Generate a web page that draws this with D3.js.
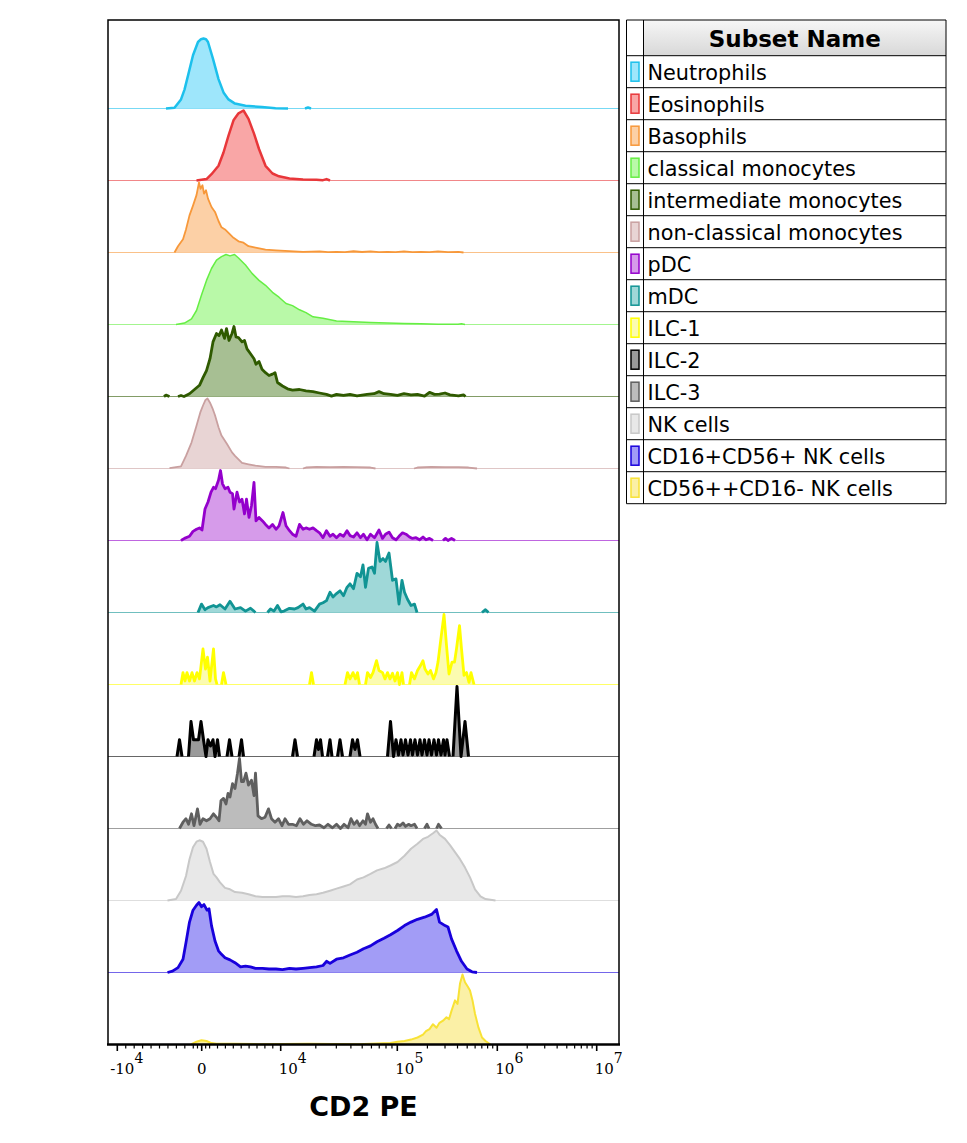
<!DOCTYPE html>
<html>
<head>
<meta charset="utf-8">
<script src="https://cdn.jsdelivr.net/npm/d3@7"></script>
<style>
  body { margin: 0; background: #fff; }
  text { font-family: "DejaVu Sans", Verdana, sans-serif; fill: #000; }
  .tick-label { font-family: "DejaVu Serif", serif; font-size: 15px; }
</style>
</head>
<body>
<script>

// Subsets, top to bottom
var subsets = ["Neutrophils", "Eosinophils", "Basophils", "classical monocytes",
  "intermediate monocytes", "non-classical monocytes", "pDC", "mDC", "ILC-1",
  "ILC-2", "ILC-3", "NK cells", "CD16+CD56+ NK cells", "CD56++CD16- NK cells"];

// Histograms: [display channel (0-1022), % of max count]
var neutrophils = [[116,0],[133,1],[146,13],[153,27],[160,47],[170,76],[180,95],[186,99],[191,100],[196,99],[200,95],[210,71],[221,42],[231,23],[241,13],[254,7],[275,4],[308,2],[335,0.5],[360,0],[394,0],[400,1.5],[406,0]];
var eosinophils = [[177,0],[197,2],[207,9],[221,21],[231,40],[241,64],[251,86],[261,96],[271,100],[281,88],[292,67],[302,45],[315,21],[329,10],[342,6],[363,3],[390,1.5],[417,1],[430,0.5],[437,2],[444,0]];
var basophils = [[133,0],[140,9],[150,19],[156,33],[163,53],[170,67],[177,82],[182,100],[185,91],[189,96],[192,84],[196,89],[200,77],[207,65],[214,58],[221,45],[227,36],[234,33],[241,28],[251,21],[261,16],[271,14],[281,9],[295,7],[315,4],[336,3],[363,2],[390,1],[423,1.5],[440,0.5],[457,1],[474,0.5],[491,1.8],[508,0.7],[525,1.5],[542,0.5],[559,1],[575,0.5],[592,1.5],[609,0.5],[626,1],[643,0.5],[660,1.5],[680,0.5],[701,1],[711,0]];
var classicalMono = [[136,0],[153,2],[167,8],[177,20],[187,42],[197,63],[207,80],[217,92],[227,97],[236,100],[244,98],[253,100],[261,95],[275,85],[288,73],[302,63],[315,56],[329,46],[342,39],[356,30],[369,27],[383,21],[396,17],[410,11],[430,9],[457,5],[491,4],[525,3],[559,2],[592,1.4],[626,1],[660,0.5],[700,0.5],[707,1],[714,0]];
var intermediateMono = [[112,0],[116,2],[123,0],[140,0],[146,1.5],[152,0],[163,4],[173,10],[183,16],[190,27],[197,37],[204,54],[210,78],[217,90],[222,87],[227,95],[233,83],[237,97],[242,80],[248,90],[252,100],[256,85],[261,84],[268,78],[273,80],[278,68],[285,61],[292,54],[296,46],[302,50],[308,39],[315,34],[322,30],[329,32],[334,34],[339,20],[349,15],[359,11],[369,9],[383,10],[396,8],[410,7],[423,5],[437,3],[447,0.5],[457,3],[471,1.5],[484,3],[498,1],[518,3],[532,4],[542,7],[552,4],[565,3],[579,1.5],[592,4],[606,2.4],[619,3],[633,0.5],[643,6],[653,3],[663,3.4],[674,5],[684,2.4],[701,1],[711,2.4],[715,0]];
var nonClassicalMono = [[123,0.5],[146,3],[156,18],[167,37],[177,61],[185,81],[190,90],[195,98],[199,100],[204,94],[209,86],[214,76],[221,59],[227,47],[238,35],[248,23],[254,18],[268,8],[281,6],[295,4],[315,2.4],[336,2.4],[356,1.4],[363,0],[390,0],[396,1.4],[417,2.4],[444,2],[471,2.4],[498,2],[525,1.4],[535,0],[612,0],[619,1.4],[647,2.4],[674,2],[701,2],[721,1.4],[738,0]];
var pDC = [[146,0],[153,3],[163,6],[170,13],[177,16],[183,18],[188,15],[194,45],[200,55],[206,69],[211,76],[215,74],[221,86],[225,100],[229,81],[234,74],[240,76],[244,69],[249,67],[252,45],[258,69],[263,55],[268,59],[273,38],[277,59],[282,33],[287,50],[292,83],[296,28],[302,33],[309,28],[315,23],[322,18],[329,23],[336,16],[342,21],[350,40],[356,21],[363,14],[369,9],[376,6],[383,23],[390,16],[396,18],[403,16],[410,18],[417,14],[423,11],[430,4],[437,14],[444,6],[450,9],[457,4],[464,9],[471,6],[478,14],[484,7],[491,5],[498,11],[505,4],[511,9],[518,1],[525,9],[533,4],[542,15],[549,3],[555,9],[562,12],[569,4],[576,1],[582,6],[589,11],[596,9],[603,5],[609,3],[616,4],[623,1],[630,5],[636,1],[643,3],[650,0],[670,0],[675,3],[680,0],[687,3],[694,0]];
var mDC = [[180,0],[187,12],[194,4],[200,7],[211,10],[217,8],[224,11],[234,5],[244,16],[254,5],[265,7],[275,2],[285,6],[295,0],[319,0],[325,5],[332,2],[339,10],[346,1],[352,2],[363,6],[373,5],[380,7],[390,12],[396,5],[403,7],[413,2],[423,12],[430,14],[437,17],[444,29],[450,22],[457,27],[464,31],[471,24],[478,36],[484,41],[491,34],[498,56],[505,51],[510,68],[515,36],[521,63],[528,65],[533,56],[538,100],[544,73],[550,77],[555,73],[562,85],[569,46],[576,48],[582,12],[588,46],[593,29],[599,19],[606,10],[613,12],[618,0],[748,0],[755,4],[761,0]];
var ilc1 = [[146,0],[150,17],[154,5],[158,17],[163,5],[168,17],[173,5],[178,17],[183,8],[190,51],[195,22],[199,39],[204,5],[211,51],[215,8],[218,0],[227,0],[231,17],[236,0],[403,0],[407,17],[411,0],[474,0],[479,17],[484,8],[490,17],[495,8],[499,17],[503,0],[515,0],[519,17],[525,10],[530,17],[537,34],[542,20],[549,17],[554,8],[559,17],[564,8],[569,16],[574,5],[579,17],[583,0],[588,17],[591,0],[603,0],[607,17],[613,8],[619,20],[625,27],[630,34],[634,22],[640,15],[645,20],[651,8],[656,17],[660,32],[665,61],[672,100],[677,56],[682,15],[688,32],[693,32],[697,51],[703,84],[707,51],[712,13],[717,17],[722,3],[726,17],[732,0]];
var ilc2 = [[138,0],[143,24],[148,0],[161,0],[166,50],[171,24],[181,24],[186,50],[191,24],[196,0],[200,24],[205,15],[210,24],[214,0],[219,24],[223,0],[238,0],[243,24],[248,0],[262,0],[267,24],[271,0],[369,0],[374,24],[379,0],[412,0],[417,24],[421,10],[425,24],[429,0],[439,0],[444,24],[448,0],[459,0],[464,24],[469,0],[484,0],[489,24],[494,10],[499,24],[504,0],[559,0],[565,50],[571,0],[576,24],[581,2],[586,24],[590,2],[595,24],[600,2],[605,24],[609,2],[614,24],[619,2],[624,24],[628,2],[633,24],[638,2],[642,24],[647,2],[652,24],[657,2],[661,24],[666,2],[671,24],[674,2],[678,24],[683,0],[690,0],[698,100],[706,0],[714,50],[721,0]];
var ilc3 = [[143,0],[150,9],[156,14],[161,6],[167,21],[172,4],[179,28],[184,6],[190,14],[197,11],[204,14],[211,21],[217,16],[222,11],[226,40],[231,43],[236,35],[240,50],[244,45],[249,64],[254,57],[259,79],[263,100],[267,67],[271,67],[276,79],[281,62],[287,69],[292,47],[295,79],[300,18],[307,14],[314,16],[321,28],[327,14],[334,9],[341,14],[348,4],[354,14],[361,6],[369,6],[377,4],[384,14],[391,6],[398,11],[407,6],[415,4],[423,5],[432,1],[440,6],[449,1],[457,6],[465,0],[472,6],[480,1],[486,14],[492,6],[498,11],[503,4],[510,11],[515,6],[519,21],[525,9],[530,14],[535,6],[540,0],[557,0],[562,5],[567,0],[574,0],[579,6],[584,4],[590,8],[595,3],[601,6],[606,4],[613,6],[618,0],[633,0],[638,6],[642,0],[657,0],[661,6],[667,0]];
var nkCells = [[119,0],[136,2],[146,14],[156,35],[163,59],[170,76],[177,84],[183,86],[190,84],[197,74],[204,55],[211,38],[217,33],[224,26],[234,18],[244,16],[254,12],[268,11],[281,9],[295,6],[309,5],[322,5],[336,5],[349,6],[363,6],[376,5],[390,6],[403,8],[417,9],[430,11],[444,14],[457,17],[471,20],[484,23],[498,30],[511,33],[525,38],[538,43],[552,46],[565,50],[579,55],[593,64],[606,74],[619,81],[630,88],[640,91],[650,96],[657,100],[663,94],[674,88],[684,79],[694,69],[704,59],[714,47],[724,33],[734,16],[745,6],[755,2],[775,0]];
var cd16cd56NK = [[119,0],[129,2],[140,7],[150,19],[156,43],[163,72],[170,89],[177,96],[182,100],[187,94],[192,97],[198,89],[202,91],[207,67],[214,45],[221,31],[227,26],[234,21],[244,18],[254,14],[265,8],[275,9],[285,8],[295,6],[309,6],[322,5],[336,5],[349,4],[363,6],[376,5],[390,6],[403,7],[417,8],[430,10],[437,16],[444,13],[457,19],[471,21],[484,25],[498,29],[511,34],[525,38],[538,44],[552,49],[565,54],[579,60],[593,67],[606,72],[619,76],[633,79],[647,83],[657,90],[663,72],[674,67],[680,65],[687,48],[697,31],[707,16],[718,5],[728,1],[738,0]];
var cd56brightNK = [[166,0],[177,4],[187,6],[197,5],[207,2],[217,1],[250,1],[300,0.5],[400,1],[500,0.5],[565,2],[579,4],[593,5],[606,7],[619,10],[630,14],[636,19],[643,22],[650,29],[657,24],[663,31],[670,34],[677,39],[682,36],[687,48],[694,63],[699,58],[704,87],[709,100],[714,89],[720,82],[724,77],[729,63],[734,44],[741,24],[748,10],[755,5],[765,0]];

var histograms = [neutrophils, eosinophils, basophils, classicalMono, intermediateMono,
  nonClassicalMono, pDC, mDC, ilc1, ilc2, ilc3, nkCells, cd16cd56NK, cd56brightNK];

// CD2 PE axis ticks (intensity)
var majorTicks = [-1e4, 0, 1e4, 1e5, 1e6, 1e7];
var tickExponents = [4, null, 4, 5, 6, 7];
var minorTicks = [-9e3,-8e3,-7e3,-6e3,-5e3,-4e3,-3e3,-2e3,-1e3,-500,500,1e3,2e3,3e3,4e3,5e3,6e3,7e3,8e3,9e3,
  2e4,3e4,4e4,5e4,6e4,7e4,8e4,9e4,2e5,3e5,4e5,5e5,6e5,7e5,8e5,9e5,2e6,3e6,4e6,5e6,6e6,7e6,8e6,9e6];

// Styles
var strokeColors = ["#1cc0ec","#e8373a","#f7983a","#66ee44","#2f5a00","#c9a0a0","#9400cc","#119494","#ffff00","#000000","#5f5f5f","#c8c8c8","#1800dc","#f8e236"];
var fillColors = ["#9ee6fb","#f9a6a6","#fcd0a6","#b9f9a8","#a7bf93","#e8d4d4","#d69bea","#9fd8d8","#fbfbb0","#9a9a9a","#bcbcbc","#e8e8e8","#a29cf6","#fbf0a6"];
var lineWidths = [2.5,2.5,1.8,1.5,2.8,1.8,2.8,2.8,2.8,3,2.8,2,2.8,2];

var W = 967, H = 1143;
var plotL = 108, plotR = 619, plotT = 20, plotB = 1044.5;

var svg = d3.select("body").append("svg")
  .attr("width", W).attr("height", H)
  .style("background", "#fff");

// biexponential-like display transform: intensity -> channel
var linPart = d3.scaleLinear().domain([-1e4, 0, 1e4]).range([18.6, 187.4, 345.4]);
var logPart = d3.scaleLinear().domain([4, 5, 6, 7]).range([345.4, 578.6, 778.6, 977.4]);
function biex(v) { return v <= 1e4 ? linPart(v) : logPart(Math.log10(v)); }

var x = d3.scaleLinear().domain([0, 1022]).range([plotL, plotR]);
var rowY = d3.scaleLinear().domain([0, subsets.length - 1]).range([108.5, plotB]);
var h = d3.scaleLinear().domain([0, 100]).range([0, 70]);

// break the outline wherever it runs along zero, so only the peaks get a thick stroke
function outlineRuns(data) {
  var runs = [], cur = [];
  data.forEach(function(d, k) {
    if (k > 0 && d[1] === 0 && data[k - 1][1] === 0) {
      if (cur.length > 1) runs.push(cur);
      cur = [];
    }
    cur.push(d);
  });
  if (cur.length > 1) runs.push(cur);
  return runs;
}

// histogram rows
histograms.forEach(function(data, i) {
  var base = rowY(i);
  var g = svg.append("g");

  if (i < histograms.length - 1) {
    g.append("line")
      .attr("x1", plotL).attr("x2", plotR)
      .attr("y1", base).attr("y2", base)
      .attr("stroke", strokeColors[i]).attr("stroke-opacity", 0.6)
      .attr("stroke-width", 1);
  }

  var area = d3.area()
    .x(function(d) { return x(d[0]); })
    .y0(base)
    .y1(function(d) { return base - h(d[1]); });
  var line = d3.line()
    .x(function(d) { return x(d[0]); })
    .y(function(d) { return base - h(d[1]); });

  g.append("path").datum(data).attr("d", area).attr("fill", fillColors[i]);
  g.selectAll("path.outline")
    .data(outlineRuns(data))
    .enter().append("path")
    .attr("class", "outline")
    .attr("d", line)
    .attr("fill", "none")
    .attr("stroke", strokeColors[i])
    .attr("stroke-width", lineWidths[i])
    .attr("stroke-linejoin", "round");
});

// frame
svg.append("path")
  .attr("d", "M" + plotL + "," + plotB + "V" + plotT + "H" + plotR + "V" + plotB)
  .attr("fill", "none").attr("stroke", "#000").attr("stroke-width", 1.5);
svg.append("line")
  .attr("x1", plotL - 1).attr("x2", plotR + 1)
  .attr("y1", plotB).attr("y2", plotB)
  .attr("stroke", "#000").attr("stroke-width", 2.5);

// ticks
minorTicks.forEach(function(v) {
  var px = x(biex(v));
  svg.append("line").attr("x1", px).attr("x2", px)
    .attr("y1", plotB).attr("y2", plotB + 4)
    .attr("stroke", "#000").attr("stroke-width", 1.2);
});
majorTicks.forEach(function(v, i) {
  var px = x(biex(v));
  svg.append("line").attr("x1", px).attr("x2", px)
    .attr("y1", plotB).attr("y2", plotB + 6.5)
    .attr("stroke", "#000").attr("stroke-width", 1.6);
  if (v === 0) {
    svg.append("text").attr("class", "tick-label")
      .attr("x", px).attr("y", 1074).attr("text-anchor", "middle").text("0");
    return;
  }
  var t = svg.append("text").attr("class", "tick-label")
    .attr("x", px - 2).attr("y", 1074);
  t.append("tspan").text("10");
  t.append("tspan").attr("dy", -11).attr("font-size", 14).text(tickExponents[i]);
  if (v < 0) {
    svg.append("text").attr("class", "tick-label")
      .attr("x", px - 2).attr("y", 1074).attr("text-anchor", "end").text("-");
  }
});

// axis title
svg.append("text")
  .attr("x", (plotL + plotR) / 2).attr("y", 1116)
  .attr("text-anchor", "middle")
  .attr("font-weight", "bold").attr("font-size", 27)
  .text("CD2 PE");

// legend table
var lx0 = 626.5, lx1 = 643.5, lx2 = 946, ly0 = 20, headH = 35.7, rowH = 32;
var grad = svg.append("defs").append("linearGradient")
  .attr("id", "headGrad").attr("x1", 0).attr("x2", 0).attr("y1", 0).attr("y2", 1);
grad.append("stop").attr("offset", "0%").attr("stop-color", "#f6f6f6");
grad.append("stop").attr("offset", "100%").attr("stop-color", "#d8d8d8");

var legend = svg.append("g");
legend.append("rect")
  .attr("x", lx1).attr("y", ly0).attr("width", lx2 - lx1).attr("height", headH)
  .attr("fill", "url(#headGrad)");
legend.append("text")
  .attr("x", (lx1 + lx2) / 2).attr("y", ly0 + 27)
  .attr("text-anchor", "middle")
  .attr("font-weight", "bold").attr("font-size", 23)
  .text("Subset Name");

subsets.forEach(function(name, i) {
  var ry = ly0 + headH + i * rowH;
  legend.append("rect")
    .attr("x", 631).attr("y", ry + 6.5).attr("width", 8).attr("height", 19)
    .attr("fill", fillColors[i]).attr("stroke", strokeColors[i]).attr("stroke-width", 1.5);
  legend.append("text")
    .attr("x", lx1 + 4).attr("y", ry + 24.3)
    .attr("font-size", 20.8)
    .text(name);
});

var legendBottom = ly0 + headH + subsets.length * rowH;
[ly0].concat(d3.range(subsets.length + 1).map(function(k) { return ly0 + headH + k * rowH; }))
  .forEach(function(yy) {
    legend.append("line").attr("x1", lx0).attr("x2", lx2)
      .attr("y1", yy).attr("y2", yy)
      .attr("stroke", "#000").attr("stroke-width", 1);
  });
[lx0, lx1, lx2].forEach(function(xx) {
  legend.append("line").attr("x1", xx).attr("x2", xx)
    .attr("y1", ly0).attr("y2", legendBottom)
    .attr("stroke", "#000").attr("stroke-width", 1);
});

</script>
</body>
</html>
